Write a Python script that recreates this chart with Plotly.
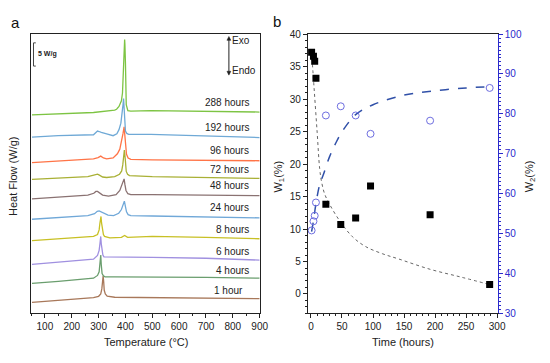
import plotly.graph_objects as go

# ---------------- Panel a: DSC curves ----------------
labels = ["1 hour", "4 hours", "6 hours", "8 hours", "24 hours", "48 hours",
          "72 hours", "96 hours", "192 hours", "288 hours"]
colors = ["#A8785A", "#6A9E6E", "#A090E0", "#C8C025", "#70A8D8", "#8A7272",
          "#A9B035", "#FF7447", "#6FA9D6", "#7DC443"]

T_1h = [52, 150, 281, 300, 308, 312, 315, 317, 319, 321, 325, 332, 360, 500, 700, 900]
HF_1h = [2.4, 2.8, 3.4, 3.7, 4.2, 5.3, 7.3, 8.1, 6.8, 5.0, 4.2, 3.75, 3.5, 3.4, 3.35, 3.2]

T_4h = [52, 150, 281, 296, 302, 305, 307, 308, 310, 313, 318, 324, 360, 500, 700, 900]
HF_4h = [6.5, 6.9, 7.6, 8.2, 9.0, 10.5, 12.0, 12.6, 10.5, 8.6, 8.1, 7.9, 7.9, 7.9, 7.8, 7.6]

T_6h = [52, 150, 281, 296, 302, 305, 307, 308, 310, 312, 316, 320, 360, 500, 700, 900]
HF_6h = [10.6, 11.1, 11.7, 12.5, 13.6, 15.0, 16.2, 16.6, 15.0, 13.5, 12.6, 12.2, 12.2, 12.1, 11.9, 11.5]

T_8h = [52, 150, 281, 296, 302, 305, 307, 309, 311, 314, 318, 322, 342, 385, 397, 408, 500, 700, 900]
HF_8h = [15.7, 16.1, 16.6, 17.0, 18.0, 19.5, 20.5, 20.9, 19.5, 18.0, 17.0, 16.6, 16.3, 16.4, 16.8, 16.4, 16.6, 16.4, 16.1]

T_24h = [52, 150, 260, 285, 295, 302, 310, 320, 335, 356, 375, 385, 391, 396, 400, 404, 410, 420, 500, 700, 900]
HF_24h = [20.3, 20.7, 21.1, 21.5, 22.0, 22.1, 21.9, 21.5, 21.2, 21.1, 21.6, 22.4, 23.5, 24.2, 23.0, 21.9, 21.3, 21.1, 21.0, 20.8, 20.6]

T_48h = [52, 150, 260, 282, 290, 296, 302, 315, 337, 365, 379, 387, 392, 395, 398, 402, 409, 420, 500, 700, 900]
HF_48h = [24.7, 25.1, 25.5, 25.9, 26.3, 26.3, 26.0, 25.5, 25.3, 25.6, 26.5, 27.9, 28.8, 29.0, 27.8, 26.5, 25.8, 25.6, 25.6, 25.5, 25.4]

T_72h = [52, 150, 260, 282, 290, 296, 303, 315, 330, 360, 378, 386, 390, 393, 396, 399, 403, 408, 415, 500, 700, 900]
HF_72h = [28.9, 29.2, 29.5, 29.8, 30.0, 30.0, 29.8, 29.4, 29.3, 29.5, 30.0, 30.7, 32.0, 34.0, 35.2, 33.5, 30.6, 30.0, 29.7, 29.5, 29.3, 29.1]

T_96h = [52, 150, 281, 298, 308, 318, 330, 354, 370, 379, 386, 391, 395, 398, 401, 404, 410, 420, 500, 700, 900]
HF_96h = [32.5, 32.9, 33.3, 33.6, 33.9, 33.5, 33.3, 33.5, 34.4, 35.4, 37.0, 38.8, 40.2, 38.5, 36.0, 34.3, 33.5, 33.2, 33.1, 33.0, 32.9]

T_192h = [52, 150, 281, 290, 296, 302, 310, 330, 354, 368, 376, 383, 388, 391, 393, 395, 397, 400, 405, 412, 495, 700, 900]
HF_192h = [38.0, 38.3, 38.5, 38.9, 39.3, 39.2, 39.0, 38.7, 38.3, 38.7, 39.6, 41.0, 43.0, 45.0, 46.3, 44.5, 41.6, 39.3, 38.8, 38.6, 38.6, 38.3, 37.9]

T_288h = [52, 150, 281, 360, 367, 376, 385, 389, 391, 393, 395, 397, 398, 400, 403, 409, 420, 495, 700, 900]
HF_288h = [42.8, 43.0, 43.3, 43.8, 44.0, 44.6, 45.8, 47.5, 50.6, 53.5, 56.9, 59.0, 58.0, 54.0, 45.0, 43.7, 43.6, 43.7, 43.6, 43.4]

dsc_T = [T_1h, T_4h, T_6h, T_8h, T_24h, T_48h, T_72h, T_96h, T_192h, T_288h]
dsc_HF = [HF_1h, HF_4h, HF_6h, HF_8h, HF_24h, HF_48h, HF_72h, HF_96h, HF_192h, HF_288h]
label_y = [5.0, 9.2, 13.4, 18.0, 22.9, 27.6, 31.0, 35.2, 40.0, 45.4]

# ---------------- Panel b ----------------
time_h = [1, 4, 6, 8, 24, 48, 72, 96, 192, 288]
W1 = [37.2, 36.6, 35.8, 33.2, 13.8, 10.7, 11.7, 16.6, 12.2, 1.45]
W2 = [50.8, 53.1, 54.5, 57.8, 79.6, 81.9, 79.6, 75.0, 78.3, 86.5]

fit_t1 = [1, 5, 10, 14, 17, 22, 30, 46, 67, 88, 115, 141, 192, 244, 288]
fit_W1 = [37.2, 31.7, 24.8, 19.3, 17.3, 15.4, 13.8, 11.3, 8.8, 7.3, 6.2, 5.4, 3.8, 2.55, 1.45]
fit_t2 = [1, 4, 8, 14, 20, 30, 40, 50, 72, 100, 150, 200, 250, 288]
fit_W2 = [50.5, 53.2, 57.5, 62.3, 64.8, 69.3, 72.7, 75.5, 79.8, 82.3, 84.7, 85.8, 86.5, 86.8]

FONT = "Liberation Sans, Arial, sans-serif"
W, H = 550, 363

fig = go.Figure()

for T, HF, c in zip(dsc_T, dsc_HF, colors):
    fig.add_trace(go.Scatter(x=T, y=HF, mode="lines", line=dict(color=c, width=1.3),
                             xaxis="x", yaxis="y", showlegend=False, hoverinfo="skip"))

fig.add_trace(go.Scatter(x=fit_t1, y=fit_W1, mode="lines", line=dict(color="#666666", width=1, dash="dot", shape="spline"),
                         xaxis="x2", yaxis="y2", showlegend=False))
fig.add_trace(go.Scatter(x=time_h, y=W1, mode="markers", marker=dict(symbol="square", size=7, color="black"),
                         xaxis="x2", yaxis="y2", showlegend=False))
fig.add_trace(go.Scatter(x=fit_t2, y=fit_W2, mode="lines", line=dict(color="#3050A8", width=1.5, dash="dash", shape="spline"),
                         xaxis="x2", yaxis="y3", showlegend=False))
fig.add_trace(go.Scatter(x=time_h, y=W2, mode="markers",
                         marker=dict(symbol="circle-open", size=7, color="#6E6EE0", line=dict(width=1)),
                         xaxis="x2", yaxis="y3", showlegend=False))


def px_x(p):
    return p / W


def px_y(p):
    return 1 - p / H


ydom = [px_y(318), px_y(29)]
tickfont = dict(family=FONT, size=10, color="#222")
blue = "#2A2ACC"

fig.update_layout(
    width=W, height=H, autosize=False,
    margin=dict(l=0, r=0, t=0, b=0),
    paper_bgcolor="white", plot_bgcolor="white",
    font=dict(family=FONT, size=10, color="#222"),
    xaxis=dict(domain=[px_x(32), px_x(264)], range=[50, 900], anchor="y",
               showline=True, linecolor="#222", linewidth=1, mirror=True,
               ticks="outside", ticklen=4, tickcolor="#222", dtick=100, tick0=0,
               minor=dict(ticks="outside", ticklen=2, dtick=50, tickcolor="#222"),
               showgrid=False, zeroline=False, tickfont=tickfont),
    yaxis=dict(domain=ydom, range=[0, 60.2], anchor="x",
               showline=True, linecolor="#222", linewidth=1, mirror=True,
               showticklabels=False, ticks="", showgrid=False, zeroline=False),
    xaxis2=dict(domain=[px_x(313), px_x(506)], range=[-5, 301], anchor="y2",
                showline=True, linecolor="#222", linewidth=1, mirror=True,
                ticks="outside", ticklen=4, tickcolor="#222", dtick=50, tick0=0,
                minor=dict(ticks="outside", ticklen=2, dtick=10, tickcolor="#222"),
                showgrid=False, zeroline=False, tickfont=tickfont),
    yaxis2=dict(domain=ydom, range=[-3, 40], anchor="x2",
                showline=True, linecolor="#222", linewidth=1,
                ticks="outside", ticklen=4, tickcolor="#222", dtick=5, tick0=0,
                minor=dict(ticks="outside", ticklen=2, dtick=1, tickcolor="#222"),
                showgrid=False, zeroline=False, tickfont=tickfont),
    yaxis3=dict(range=[30, 100], overlaying="y2", side="right", anchor="x2",
                showline=True, linecolor=blue, linewidth=1.2,
                ticks="outside", ticklen=4, tickcolor=blue, dtick=10, tick0=0,
                minor=dict(ticks="outside", ticklen=2, dtick=1, tickcolor=blue),
                showgrid=False, zeroline=False,
                tickfont=dict(family=FONT, size=10, color=blue)),
)

ann = []
for lab, yv in zip(labels, label_y):
    ann.append(dict(x=867 if lab != "1 hour" else 845, y=yv, xref="x", yref="y", text=lab,
                    showarrow=False, xanchor="right", yanchor="middle",
                    font=dict(family=FONT, size=10, color="#222")))
ann.append(dict(x=68, y=55.8, xref="x", yref="y", text="<b>5 W/g</b>", showarrow=False,
                xanchor="left", yanchor="middle", font=dict(family=FONT, size=7, color="#222")))
ann.append(dict(x=px_x(234), y=px_y(36), xref="paper", yref="paper", text="Exo", showarrow=False,
                xanchor="left", yanchor="middle", font=dict(family=FONT, size=10, color="#222")))
ann.append(dict(x=px_x(234), y=px_y(67), xref="paper", yref="paper", text="Endo", showarrow=False,
                xanchor="left", yanchor="middle", font=dict(family=FONT, size=10, color="#222")))
ann.append(dict(x=px_x(16), y=px_y(17), xref="paper", yref="paper", text="a", showarrow=False,
                xanchor="center", yanchor="middle", font=dict(family=FONT, size=15, color="#111")))
ann.append(dict(x=px_x(282), y=px_y(16), xref="paper", yref="paper", text="b", showarrow=False,
                xanchor="center", yanchor="middle", font=dict(family=FONT, size=15, color="#111")))
ann.append(dict(x=px_x(148), y=px_y(347), xref="paper", yref="paper", text="Temperature (°C)", showarrow=False,
                xanchor="center", yanchor="middle", font=dict(family=FONT, size=11, color="#222")))
ann.append(dict(x=px_x(13), y=px_y(176), xref="paper", yref="paper", text="Heat Flow (W/g)", showarrow=False,
                textangle=-90, xanchor="center", yanchor="middle", font=dict(family=FONT, size=11, color="#222")))
ann.append(dict(x=px_x(410), y=px_y(347), xref="paper", yref="paper", text="Time (hours)", showarrow=False,
                xanchor="center", yanchor="middle", font=dict(family=FONT, size=11, color="#222")))
ann.append(dict(x=px_x(284), y=px_y(176), xref="paper", yref="paper", text="W<sub>1</sub>(%)", showarrow=False,
                textangle=-90, xanchor="center", yanchor="middle", font=dict(family=FONT, size=11, color="#222")))
ann.append(dict(x=px_x(539), y=px_y(176), xref="paper", yref="paper", text="W<sub>2</sub>(%)", showarrow=False,
                textangle=-90, xanchor="center", yanchor="middle", font=dict(family=FONT, size=11, color="#222")))
fig.update_layout(annotations=ann)


def tri(xc, ytip, up):
    # small arrowhead triangle in paper coordinates, from pixel positions
    h = 4 if up else -4
    return (f"M {px_x(xc)} {px_y(ytip)} L {px_x(xc - 2)} {px_y(ytip + h)} "
            f"L {px_x(xc + 2)} {px_y(ytip + h)} Z")


shapes = [
    dict(type="line", xref="x", yref="y", x0=57.5, x1=57.5, y0=53.3, y1=58.3, line=dict(color="#444", width=1)),
    dict(type="line", xref="x", yref="y", x0=57.5, x1=66, y0=58.3, y1=58.3, line=dict(color="#444", width=1)),
    dict(type="line", xref="x", yref="y", x0=57.5, x1=66, y0=53.3, y1=53.3, line=dict(color="#444", width=1)),
    dict(type="line", xref="paper", yref="paper", x0=px_x(232.7), x1=px_x(232.7), y0=px_y(33), y1=px_y(70),
         line=dict(color="#222", width=1)),
    dict(type="path", xref="paper", yref="paper", path=tri(232.7, 31.5, True),
         fillcolor="#222", line=dict(color="#222", width=0.5)),
    dict(type="path", xref="paper", yref="paper", path=tri(232.7, 71.5, False),
         fillcolor="#222", line=dict(color="#222", width=0.5)),
]
fig.update_layout(shapes=shapes)

fig.write_html("out.html", config={"displayModeBar": False},
               post_script="document.body.style.margin='0';")
